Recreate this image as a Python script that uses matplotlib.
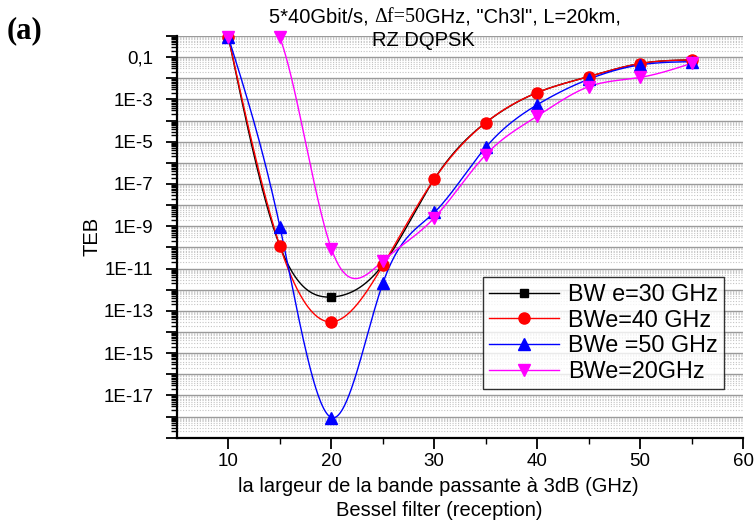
import numpy as np
import matplotlib
matplotlib.use("Agg")
import matplotlib.pyplot as plt
from matplotlib.lines import Line2D
from matplotlib.ticker import FixedLocator, LogLocator, FuncFormatter, NullFormatter

# Bessel filter bandwidth at reception (GHz)
bandwidth = [10, 15, 20, 25, 30, 35, 40, 45, 50, 55]

# TEB for each electrical bandwidth BWe
ber_bwe30 = [0.85, 1.15e-10, 4.5e-13, 1.5e-11, 1.7e-7, 8.0e-5, 2.1e-3, 1.2e-2, 5.0e-2, 7.4e-2]
ber_bwe40 = [0.85, 1.15e-10, 3.0e-14, 1.4e-11, 1.7e-7, 8.0e-5, 2.1e-3, 1.2e-2, 5.0e-2, 7.4e-2]
ber_bwe50 = [0.85, 9.5e-10, 9.0e-19, 2.0e-12, 4.5e-9, 5.4e-6, 5.6e-4, 9.0e-3, 4.3e-2, 6.1e-2]
ber_bwe20 = [0.85, 0.85, 8.7e-11, 2.3e-11, 2.5e-9, 2.4e-6, 1.6e-4, 4.0e-3, 1.1e-2, 5.1e-2]

series_labels = ["BW e=30 GHz", "BWe=40 GHz", "BWe =50 GHz", "BWe=20GHz"]
series_values = [ber_bwe30, ber_bwe40, ber_bwe50, ber_bwe20]
series_colors = ["black", "#ff0000", "#0000ff", "#ff00ff"]
series_markers = ["s", "o", "^", "v"]
series_msizes = [6, 8, 8.5, 8.5]

x_ticks = [10, 20, 30, 40, 50, 60]
y_label_exponents = [-1, -3, -5, -7, -9, -11, -13, -15, -17]

SANS = "Liberation Sans"
SERIF = "Liberation Serif"


def natural_spline(x, y, xs):
    """Natural cubic spline through (x, y), evaluated at xs."""
    x = np.asarray(x, float)
    y = np.asarray(y, float)
    n = len(x)
    h = np.diff(x)
    A = np.zeros((n, n))
    b = np.zeros(n)
    A[0, 0] = A[-1, -1] = 1.0
    for i in range(1, n - 1):
        A[i, i - 1] = h[i - 1]
        A[i, i] = 2 * (h[i - 1] + h[i])
        A[i, i + 1] = h[i]
        b[i] = 6 * ((y[i + 1] - y[i]) / h[i] - (y[i] - y[i - 1]) / h[i - 1])
    M = np.linalg.solve(A, b)
    idx = np.clip(np.searchsorted(x, xs) - 1, 0, n - 2)
    x0, x1 = x[idx], x[idx + 1]
    hh = x1 - x0
    t0 = x1 - xs
    t1 = xs - x0
    return (M[idx] * t0 ** 3 / (6 * hh) + M[idx + 1] * t1 ** 3 / (6 * hh)
            + (y[idx] / hh - M[idx] * hh / 6) * t0
            + (y[idx + 1] / hh - M[idx + 1] * hh / 6) * t1)


fig = plt.figure(figsize=(7.55, 5.28), dpi=100)
ax = fig.add_axes([177 / 755, 1 - 437.7 / 528, (743 - 177) / 755, (437.7 - 36) / 528])

ax.set_yscale("log")
ax.set_xlim(5, 60)
ax.set_ylim(1e-19, 1)

# grid: solid grey decades, dotted minor lines
ax.yaxis.set_major_locator(FixedLocator([10.0 ** e for e in range(-19, 1)]))
ax.yaxis.set_minor_locator(LogLocator(base=10, subs=np.arange(2, 10), numticks=100))
ax.grid(True, which="major", axis="y", color="#9a9a9a", lw=1.0, ls="-")
ax.grid(True, which="minor", axis="y", color="#c4c4c4", lw=0.8, ls=(0, (1, 1.5)))
ax.set_axisbelow(True)


def y_fmt(v, pos):
    e = int(round(np.log10(v)))
    if e not in y_label_exponents:
        return ""
    if e == -1:
        return "0,1"
    return "1E%d" % e


ax.yaxis.set_major_formatter(FuncFormatter(y_fmt))
ax.yaxis.set_minor_formatter(NullFormatter())

ax.xaxis.set_major_locator(FixedLocator(x_ticks))
ax.xaxis.set_minor_locator(FixedLocator([15, 25, 35, 45, 55]))

for sp in ["top", "right"]:
    ax.spines[sp].set_visible(False)
for sp in ["left", "bottom"]:
    ax.spines[sp].set_linewidth(1.6)

ax.tick_params(axis="both", which="major", direction="out", length=8, width=1.3,
               labelsize=13.5, pad=3)
ax.tick_params(axis="both", which="minor", direction="out", length=4, width=1.0)
ax.tick_params(axis="y", which="major", pad=9)
for lab in ax.get_xticklabels() + ax.get_yticklabels():
    lab.set_fontfamily(SANS)

xs = np.linspace(bandwidth[0], bandwidth[-1], 600)
handles = []
for vals, lab, col, mk, ms in zip(series_values, series_labels, series_colors,
                                   series_markers, series_msizes):
    logv = np.log10(vals)
    smooth = natural_spline(bandwidth, logv, xs)
    ax.plot(xs, 10 ** smooth, color=col, lw=1.0, zorder=3)
    ax.plot(bandwidth, vals, ls="none", marker=mk, ms=ms, color=col,
            markeredgecolor=col, zorder=4, clip_on=False)
    handles.append(Line2D([], [], color=col, lw=1.0, marker=mk, ms=ms,
                          markeredgecolor=col, label=lab))

leg = ax.legend(handles=handles, loc="upper left",
                bbox_to_anchor=((483 - 177) / (743 - 177), (437.7 - 277) / (437.7 - 36)),
                borderaxespad=0, frameon=True, fancybox=False, handlelength=3.0,
                handletextpad=0.4, labelspacing=0.12, borderpad=0.25,
                prop={"family": SANS, "size": 16.8})
leg.get_frame().set_edgecolor("black")
leg.get_frame().set_linewidth(1.0)
leg.set_zorder(5)

# axis titles
ax.text(92 / 755, 1 - 236 / 528, "TEB", transform=fig.transFigure, rotation=90,
        ha="center", va="center", fontsize=14.5, family=SANS)
fig.text(438 / 755, 1 - 486 / 528, "la largeur de la bande passante à 3dB (GHz)",
         ha="center", va="center", fontsize=14.5, family=SANS)
fig.text(439 / 755, 1 - 511 / 528, "Bessel filter (reception)",
         ha="center", va="center", fontsize=14.5, family=SANS)

fig.text(7 / 755, 1 - 31 / 528, "(a)", ha="left", va="center", fontsize=22,
         family=SERIF, fontweight="bold")

# header: first line mixes sans and serif runs
renderer = fig.canvas.get_renderer()
pieces = [("5*40Gbit/s, ", SANS), ("\u0394f=50", SERIF), ("GHz, \"Ch3l\", L=20km,", SANS)]
title_size = 14.5
widths = []
for txt, fam in pieces:
    t = fig.text(0, 0, txt, fontsize=title_size, family=fam)
    widths.append(t.get_window_extent(renderer).width)
    t.remove()
x_px = 445 - sum(widths) / 2
for (txt, fam), w in zip(pieces, widths):
    fig.text(x_px / 755, 1 - 17 / 528, txt, fontsize=title_size, family=fam,
             ha="left", va="center")
    x_px += w
fig.text(423 / 755, 1 - 40 / 528, "RZ DQPSK", ha="center", va="center",
         fontsize=title_size, family=SANS, zorder=10)

fig.savefig("out.png", dpi=100)
